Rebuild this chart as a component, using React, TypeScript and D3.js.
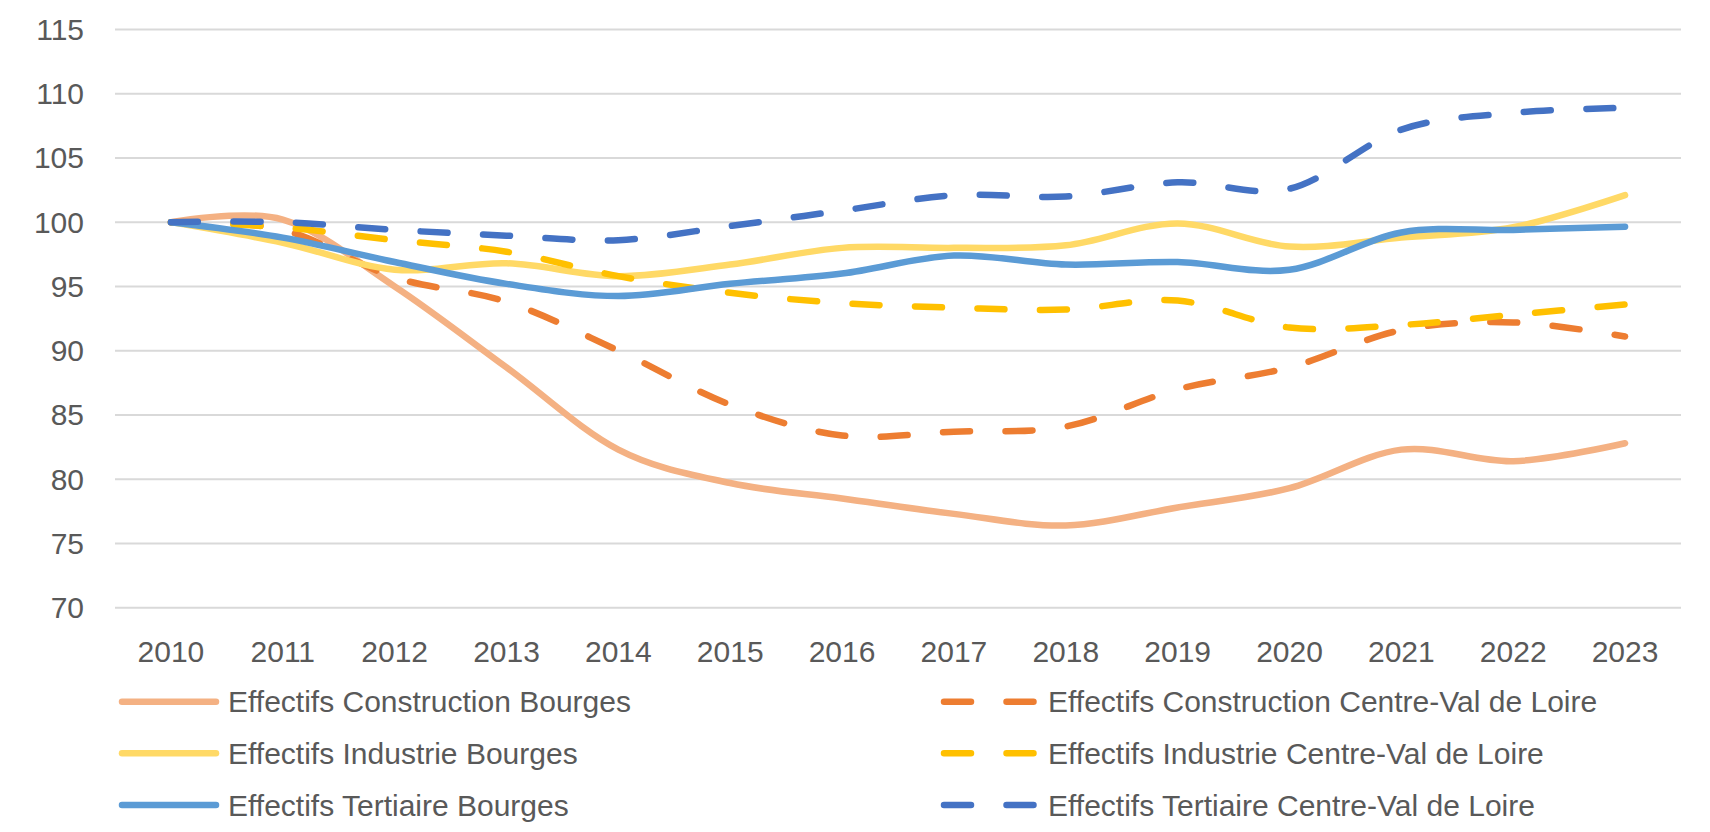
import React from "react";
import * as d3 from "d3";

const years = ["2010","2011","2012","2013","2014","2015","2016","2017","2018","2019","2020","2021","2022","2023"];
const yTicks = [70, 75, 80, 85, 90, 95, 100, 105, 110, 115];

const constructionBourges = [100, 100.2, 95.0, 88.7, 82.3, 79.7, 78.5, 77.3, 76.4, 77.8, 79.3, 82.3, 81.4, 82.8];
const constructionCVL = [100, 99.4, 95.7, 93.8, 90.0, 85.8, 83.4, 83.7, 84.1, 87.0, 88.7, 91.6, 92.2, 91.1];
const industrieBourges = [100, 98.4, 96.3, 96.8, 95.8, 96.7, 98.0, 98.0, 98.2, 99.9, 98.1, 98.8, 99.6, 102.1];
const industrieCVL = [100, 99.6, 98.6, 97.7, 95.8, 94.5, 93.7, 93.35, 93.2, 93.9, 91.8, 92.0, 92.8, 93.6];
const tertiaireBourges = [100, 98.8, 96.9, 95.2, 94.25, 95.2, 96.0, 97.4, 96.7, 96.9, 96.3, 99.2, 99.4, 99.65];
const tertiaireCVL = [100, 100.0, 99.4, 98.95, 98.6, 99.7, 100.9, 102.1, 102.0, 103.1, 102.6, 107.2, 108.5, 108.9];

const seriesNames = [
  "Effectifs Construction Bourges",
  "Effectifs Construction Centre-Val de Loire",
  "Effectifs Industrie Bourges",
  "Effectifs Industrie Centre-Val de Loire",
  "Effectifs Tertiaire Bourges",
  "Effectifs Tertiaire Centre-Val de Loire",
];
const seriesValues = [constructionBourges, constructionCVL, industrieBourges, industrieCVL, tertiaireBourges, tertiaireCVL];
const seriesColors = ["#F4B183", "#ED7D31", "#FFD966", "#FFC000", "#5B9BD5", "#4472C4"];
const seriesDashed = [false, true, false, true, false, true];

const FONT = "'Liberation Sans', Arial, sans-serif";
const TEXT = "#595959";
const DASH = "27 35.5";
const SW = 6.5;

export default function App() {
  const x = d3.scaleBand<string>().domain(years).range([115, 1681]);
  const xc = (y: string) => (x(y) as number) + x.bandwidth() / 2;
  const y = d3.scaleLinear().domain([70, 115]).range([607.7, 29.4]);
  const line = d3
    .line<number>()
    .x((_, i) => xc(years[i]))
    .y((d) => y(d))
    .curve(d3.curveCardinal.tension(0));

  const legendRows = [701.7, 753.3, 805];
  const legendCols = [
    { x0: 122, x1: 216, tx: 228 },
    { x0: 944, x1: 1034, tx: 1048 },
  ];

  return (
    <svg
      width={1710}
      height={832}
      style={{ position: "absolute", left: 0, top: 0, background: "#fff" }}
      fontFamily={FONT}
    >
      <rect x={0} y={0} width={1710} height={832} fill="#fff" />
      {yTicks.map((t) => (
        <g key={t}>
          <line x1={115} x2={1681} y1={y(t)} y2={y(t)} stroke="#d9d9d9" strokeWidth={2} />
          <text x={84} y={y(t)} textAnchor="end" dominantBaseline="central" fontSize={30} fill={TEXT}>
            {t}
          </text>
        </g>
      ))}
      {years.map((yr) => (
        <text key={yr} x={xc(yr)} y={662} textAnchor="middle" fontSize={30} fill={TEXT}>
          {yr}
        </text>
      ))}
      {seriesValues.map((vals, i) => (
        <path
          key={i}
          d={line(vals) as string}
          fill="none"
          stroke={seriesColors[i]}
          strokeWidth={SW}
          strokeLinecap="round"
          strokeLinejoin="round"
          strokeDasharray={seriesDashed[i] ? DASH : undefined}
        />
      ))}
      {seriesNames.map((name, i) => {
        const col = legendCols[i % 2];
        const ry = legendRows[Math.floor(i / 2)];
        return (
          <g key={name}>
            <line
              x1={col.x0}
              x2={col.x1}
              y1={ry}
              y2={ry}
              stroke={seriesColors[i]}
              strokeWidth={SW}
              strokeLinecap="round"
              strokeDasharray={seriesDashed[i] ? DASH : undefined}
            />
            <text x={col.tx} y={ry} dominantBaseline="central" fontSize={30} fill={TEXT}>
              {name}
            </text>
          </g>
        );
      })}
    </svg>
  );
}
